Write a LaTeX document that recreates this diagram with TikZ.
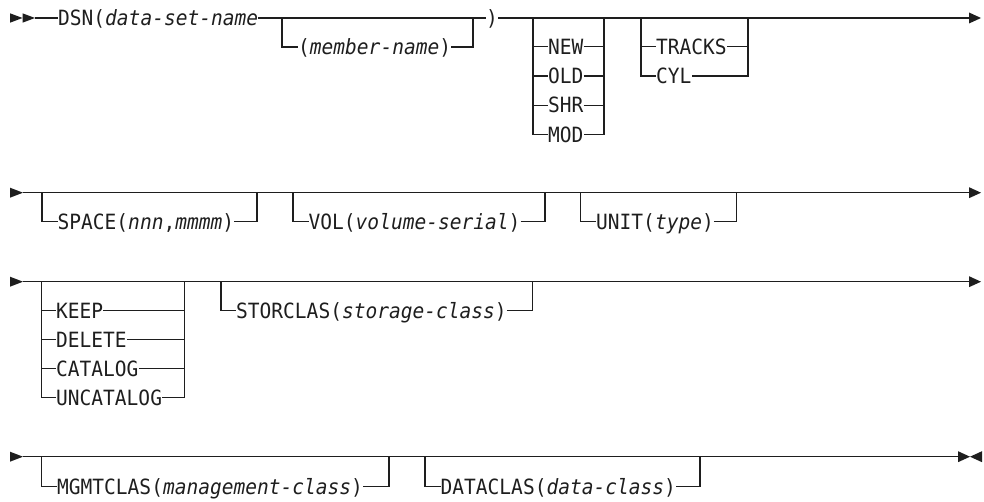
\documentclass[tikz,border=0pt]{standalone}
\usepackage{fontspec}
\setmonofont{DejaVu Sans Mono}[FakeStretch=0.93,ItalicFont={DejaVu Sans Mono Oblique}]
\newcommand\dgfont{\ttfamily\fontsize{21}{24}\selectfont}
\definecolor{ink}{RGB}{30,30,30}
\begin{document}
\begin{tikzpicture}[x=1pt,y=-1pt,
  rr/.style={line width=1.2pt,draw=ink},
  lbl/.style={anchor=west,inner sep=0pt,text height=15.3pt,text depth=0pt,font=\dgfont,text=ink},
  tri/.style={fill=ink,draw=none}]
\useasboundingbox (0,0) rectangle (984,502);

% ---------------- Row 1 ----------------
\fill[tri] (10,13.3) -- (22.5,18) -- (10,22.7) -- cycle;
\fill[tri] (22.5,13.3) -- (35,18) -- (22.5,22.7) -- cycle;
\coordinate (r1s) at (35,18);
\coordinate (r1e) at (969,18);
\fill[tri] (969,12.5) -- (981,18) -- (969,23.5) -- cycle;
\node[lbl] (dsn) at (58,18) {DSN(\textit{data-set-name}};
\node[lbl] (rp) at (486,18) {)};
\node[lbl] (mem) at (298,47) {(\textit{member-name})};
\coordinate (m1) at (282,18);
\coordinate (m2) at (473,18);
\draw[rr] (r1s) -- (dsn.west);
\draw[rr] (dsn.east) -- (rp.west);
\draw[rr] (rp.east) -- (r1e);
\draw[rr] (m1) |- (mem.west);
\draw[rr] (mem.east) -| (m2);
% NEW/OLD/SHR/MOD
\coordinate (n1) at (533,18);
\coordinate (n2) at (604,18);
\node[lbl] (new) at (548,46.7) {NEW};
\node[lbl] (old) at (548,76) {OLD};
\node[lbl] (shr) at (548,105.3) {SHR};
\node[lbl] (mod) at (548,134.6) {MOD};
\draw[rr] (n1) |- (mod.west);
\draw[rr] (n2) |- (mod.east);
\foreach \k in {new,old,shr}{
  \draw[rr] (n1 |- \k.west) -- (\k.west);
  \draw[rr] (\k.east) -- (n2 |- \k.east);
}
% TRACKS/CYL
\coordinate (t1) at (641,18);
\coordinate (t2) at (748,18);
\node[lbl] (trk) at (656,46.7) {TRACKS};
\node[lbl] (cyl) at (656,76) {CYL};
\draw[rr] (t1) |- (cyl.west);
\draw[rr] (t2) |- (cyl.east);
\draw[rr] (t1 |- trk.west) -- (trk.west);
\draw[rr] (trk.east) -- (t2 |- trk.east);

% ---------------- Row 2 ----------------
\fill[tri] (10,187.7) -- (23,192.7) -- (10,197.7) -- cycle;
\coordinate (r2s) at (23,192.7);
\coordinate (r2e) at (969,192.7);
\fill[tri] (969,187.2) -- (981,192.7) -- (969,198.2) -- cycle;
\draw[rr] (r2s) -- (r2e);
\coordinate (sp1) at (42,192.7);
\coordinate (sp2) at (257,192.7);
\node[lbl] (space) at (57.5,221.7) {SPACE(\textit{nnn},\textit{mmmm})};
\draw[rr] (sp1) |- (space.west);
\draw[rr] (space.east) -| (sp2);
\coordinate (v1) at (293,192.7);
\coordinate (v2) at (545,192.7);
\node[lbl] (vol) at (308.5,221.7) {VOL(\textit{volume-serial})};
\draw[rr] (v1) |- (vol.west);
\draw[rr] (vol.east) -| (v2);
\coordinate (u1) at (580.7,192.7);
\coordinate (u2) at (736.7,192.7);
\node[lbl] (unit) at (596,221.7) {UNIT(\textit{type})};
\draw[rr] (u1) |- (unit.west);
\draw[rr] (unit.east) -| (u2);

% ---------------- Row 3 ----------------
\fill[tri] (10,276.7) -- (23,281.7) -- (10,286.7) -- cycle;
\coordinate (r3s) at (23,281.7);
\coordinate (r3e) at (969,281.7);
\fill[tri] (969,276.2) -- (981,281.7) -- (969,287.2) -- cycle;
\draw[rr] (r3s) -- (r3e);
\coordinate (k1) at (41.7,281.7);
\coordinate (k2) at (184.3,281.7);
\node[lbl] (keep) at (56,310.7) {KEEP};
\node[lbl] (del) at (56,339.7) {DELETE};
\node[lbl] (cat) at (56,368.7) {CATALOG};
\node[lbl] (unc) at (56,397.7) {UNCATALOG};
\draw[rr] (k1) |- (unc.west);
\draw[rr] (k2) |- (unc.east);
\foreach \k in {keep,del,cat}{
  \draw[rr] (k1 |- \k.west) -- (\k.west);
  \draw[rr] (\k.east) -- (k2 |- \k.east);
}
\coordinate (sc1) at (221,281.7);
\coordinate (sc2) at (532.7,281.7);
\node[lbl] (stor) at (236,310.7) {STORCLAS(\textit{storage-class})};
\draw[rr] (sc1) |- (stor.west);
\draw[rr] (stor.east) -| (sc2);

% ---------------- Row 4 ----------------
\fill[tri] (10,451.7) -- (23,456.7) -- (10,461.7) -- cycle;
\coordinate (r4s) at (23,456.7);
\coordinate (r4e) at (958,456.7);
\fill[tri] (958,451.2) -- (970,456.7) -- (958,462.2) -- cycle;
\fill[tri] (982,451.2) -- (970,456.7) -- (982,462.2) -- cycle;
\draw[rr] (r4s) -- (r4e);
\coordinate (mg1) at (41.7,456.7);
\coordinate (mg2) at (389,456.7);
\node[lbl] (mgmt) at (57,486.7) {MGMTCLAS(\textit{management-class})};
\draw[rr] (mg1) |- (mgmt.west);
\draw[rr] (mgmt.east) -| (mg2);
\coordinate (dc1) at (425,456.7);
\coordinate (dc2) at (700,456.7);
\node[lbl] (data) at (440.5,486.7) {DATACLAS(\textit{data-class})};
\draw[rr] (dc1) |- (data.west);
\draw[rr] (data.east) -| (dc2);
\end{tikzpicture}
\end{document}
